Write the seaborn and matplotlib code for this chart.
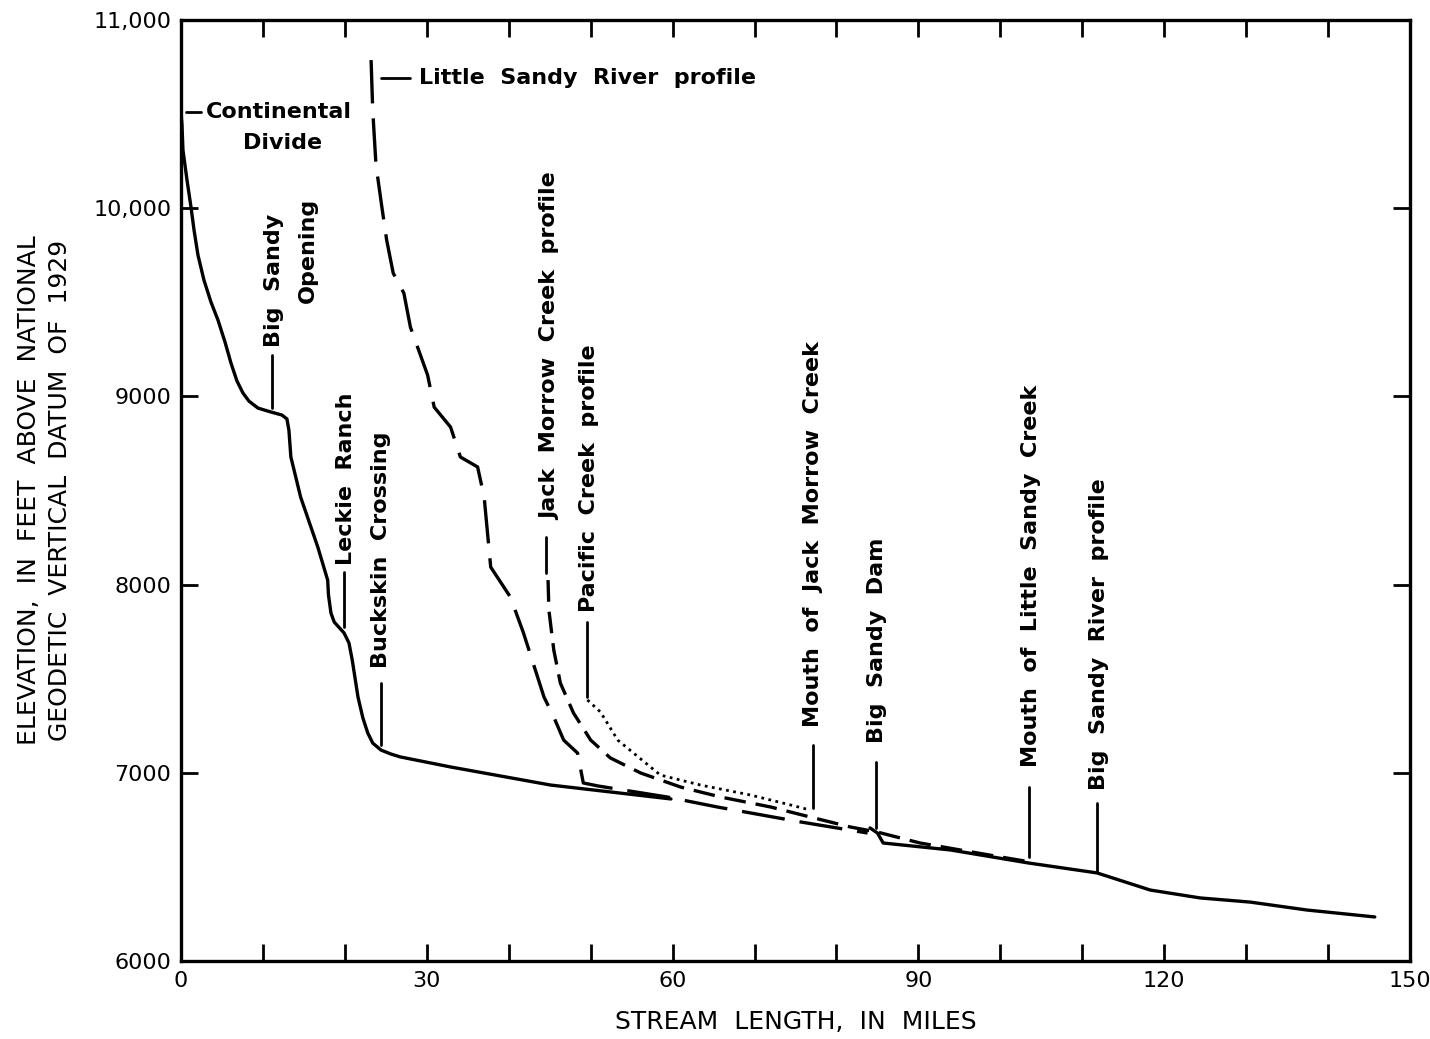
import numpy as np
import pandas as pd
import seaborn as sns
import matplotlib.pyplot as plt

# ---------------- data ----------------
# Big Sandy River profile (solid) - upper reach
big_upper_mi = [0.0, 0.12, 0.24, 0.73, 1.22, 1.59, 2.07, 2.80, 3.66, 4.51, 5.37, 6.10,
                6.83, 7.56, 8.29, 9.39, 10.98, 12.32, 12.93, 13.17, 13.41, 14.6, 16.7,
                17.9, 18.0, 18.3, 18.7, 19.9, 20.5, 20.9, 21.6, 22.2, 22.8, 23.4, 24.4,
                25.6, 26.8, 32.9, 45.1, 59.8]
big_upper_ft = [10510, 10442, 10309, 10150, 10006, 9884, 9751, 9618, 9501, 9406, 9289,
                9177, 9082, 9018, 8975, 8938, 8917, 8901, 8880, 8821, 8678, 8465, 8199,
                8024, 7945, 7849, 7801, 7743, 7690, 7599, 7403, 7291, 7211, 7158, 7121,
                7100, 7084, 7031, 6935, 6861]
# Big Sandy River profile (solid) - below the dam
big_lower_mi = [84.1, 85.0, 85.7, 93.9, 103.4, 111.8, 118.3, 124.4, 130.5, 137.4, 145.7]
big_lower_ft = [6707, 6680, 6627, 6590, 6521, 6468, 6377, 6335, 6313, 6271, 6234]

# Little Sandy River profile (long dashes)
little_mi = [23.2, 23.4, 23.8, 24.5, 25.1, 25.9, 27.2, 28.0, 30.1, 30.9, 32.9, 34.1,
             36.2, 37.0, 37.8, 40.2, 41.8, 44.3, 45.5, 46.7, 48.4, 49.1, 50.9, 59.4,
             65.5, 75.6, 83.8]
little_ft = [10787, 10521, 10229, 10011, 9831, 9655, 9549, 9368, 9113, 8943, 8837,
             8678, 8625, 8465, 8093, 7934, 7743, 7403, 7296, 7174, 7105, 6946, 6930,
             6871, 6818, 6739, 6680]

# Jack Morrow Creek profile (short dashes)
jack_mi = [44.8, 44.9, 45.5, 46.3, 47.9, 50.0, 52.4, 56.1, 61.0, 65.9, 72.0, 76.8,
           81.7, 85.0, 90.2, 95.1, 100.0, 103.7]
jack_ft = [8024, 7865, 7652, 7477, 7318, 7174, 7079, 6999, 6924, 6871, 6818, 6765,
           6712, 6685, 6627, 6590, 6553, 6526]

# Pacific Creek profile (dotted)
pacific_mi = [49.6, 51.2, 53.3, 58.5, 63.4, 69.5, 74.4, 76.8]
pacific_ft = [7387, 7323, 7174, 6988, 6935, 6882, 6829, 6802]

x_ticks = list(range(0, 151, 10))
x_tick_labels = ["0", "", "", "30", "", "", "60", "", "", "90", "", "", "120", "", "", "150"]
y_ticks = [6000, 7000, 8000, 9000, 10000, 11000]
y_tick_labels = ["6000", "7000", "8000", "9000", "10,000", "11,000"]

# vertical annotations: text, text x, text bottom y, leader x, leader y0, leader y1
vlabels = [
    ("Leckie  Ranch", 20.1, 8104, 19.9, 8067, 7775),
    ("Buckskin  Crossing", 24.4, 7557, 24.4, 7477, 7148),
    ("Jack  Morrow  Creek  profile", 45.0, 8343, 44.6, 8253, 8060),
    ("Pacific  Creek  profile", 49.8, 7854, 49.5, 7801, 7403),
    ("Mouth  of  Jack  Morrow  Creek", 77.1, 7243, 77.1, 7148, 6813),
    ("Big  Sandy  Dam", 84.9, 7158, 84.8, 7057, 6707),
    ("Mouth  of  Little  Sandy  Creek", 103.7, 7031, 103.5, 6924, 6553),
    ("Big  Sandy  River  profile", 112.1, 6909, 111.8, 6840, 6473),
]

# ---------------- figure ----------------
sns.set_style("ticks")
plt.rcParams['font.family'] = ['DejaVu Sans']
plt.rcParams['text.color'] = 'black'
plt.rcParams['axes.labelcolor'] = 'black'

fig = plt.figure(figsize=(14.3, 10.39), dpi=100)
ax = fig.add_axes([181 / 1430, 1 - 961 / 1039, (1410 - 181) / 1430, (961 - 20) / 1039])

main_df = pd.DataFrame({
    "mi": big_upper_mi + big_lower_mi,
    "ft": big_upper_ft + big_lower_ft,
    "seg": ["upper"] * len(big_upper_mi) + ["lower"] * len(big_lower_mi),
})
sns.lineplot(data=main_df, x="mi", y="ft", units="seg", estimator=None, sort=False,
             color="black", lw=2.4, ax=ax)
sns.lineplot(x=little_mi, y=little_ft, sort=False, estimator=None, color="black",
             lw=2.4, linestyle=(0, (13, 4.5)), ax=ax)
sns.lineplot(x=jack_mi, y=jack_ft, sort=False, estimator=None, color="black",
             lw=2.4, linestyle=(0, (6.5, 3)), ax=ax)
sns.lineplot(x=pacific_mi, y=pacific_ft, sort=False, estimator=None, color="black",
             lw=2.0, linestyle=(0, (1, 1.6)), ax=ax)

ax.set_xlim(0, 150)
ax.set_ylim(6000, 11000)
ax.set_xticks(x_ticks)
ax.set_xticklabels(x_tick_labels)
ax.set_yticks(y_ticks)
ax.set_yticklabels(y_tick_labels)
ax.tick_params(direction="in", length=12, width=2, top=True, right=True,
               labelsize=16, pad=7, colors="black")
for s in ax.spines.values():
    s.set_linewidth(2.4)
    s.set_color("black")
    s.set_visible(True)

ax.set_xlabel("STREAM  LENGTH,  IN  MILES", fontsize=18, labelpad=14)
ax.set_ylabel("ELEVATION,  IN  FEET  ABOVE  NATIONAL\nGEODETIC  VERTICAL  DATUM  OF  1929",
              fontsize=18, linespacing=1.35)
ax.yaxis.set_label_coords(-0.0887, 0.5)

txt_kw = dict(fontsize=16, fontweight="bold", color="black")

# horizontal annotations
ax.plot([0.6, 2.4], [10510, 10510], color="black", lw=2)
ax.text(3.0, 10510, "Continental", ha="left", va="center", **txt_kw)
ax.text(12.4, 10346, "Divide", ha="center", va="center", **txt_kw)
ax.plot([24.4, 28.0], [10691, 10691], color="black", lw=2)
ax.text(29.0, 10691, "Little  Sandy  River  profile", ha="left", va="center", **txt_kw)

# Big Sandy Opening (two columns)
ax.text(11.3, 9262, "Big  Sandy", rotation=90, ha="center", va="bottom", **txt_kw)
ax.text(15.5, 9496, "Opening", rotation=90, ha="center", va="bottom", **txt_kw)
ax.plot([11.1, 11.1], [9220, 8938], color="black", lw=2)

for text, tx, ty, lx, ly0, ly1 in vlabels:
    ax.text(tx, ty, text, rotation=90, ha="center", va="bottom", **txt_kw)
    ax.plot([lx, lx], [ly0, ly1], color="black", lw=2)

fig.savefig("out.png", dpi=100, facecolor="white")
